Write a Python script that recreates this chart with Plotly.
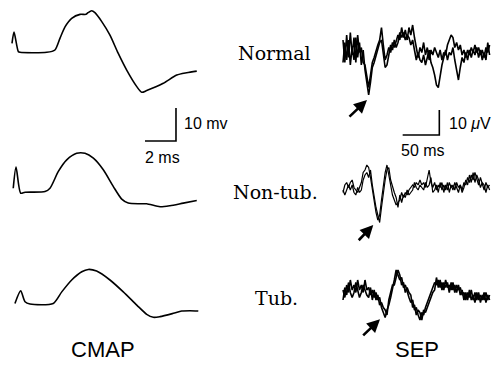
import plotly.graph_objects as go

# ---------------- CMAP data (time in ms, amplitude in mV) ----------------
cmap_normal_t = [0, 0.13, 0.41, 0.52, 2.24, 2.77, 3.10, 3.42, 3.85, 4.39, 4.77, 4.90, 5.14, 5.35,
                 5.79, 6.32, 6.84, 7.40, 8.05, 8.37, 8.69, 9.76, 10.63, 11.27, 11.92]
cmap_normal_v = [2.7, 6.1, 0.2, 0, 0, 0.7, 4.3, 7.7, 10.3, 11.5, 11.5, 12.0, 12.6, 12.0,
                 9.3, 5.2, -0.2, -5.4, -10.4, -12.1, -11.6, -9.4, -6.9, -6.2, -5.7]

cmap_nontub_t = [0.08, 0.26, 0.56, 0.84, 2.13, 2.45, 2.99, 3.53, 4.17, 4.71, 5.25, 5.89, 6.54,
                 7.08, 7.50, 8.26, 8.69, 9.55, 10.19, 11.05, 11.92]
cmap_nontub_v = [1.1, 7.5, -0.4, -0.1, 0.1, 1.1, 6.2, 9.7, 11.7, 11.7, 10.2, 6.7, 1.6,
                 -2.2, -3.4, -3.6, -3.6, -4.5, -4.2, -3.4, -2.6]

cmap_tub_t = [0.19, 0.56, 0.84, 1.16, 2.66, 3.21, 3.85, 4.50, 4.92, 5.46, 6.32, 7.18, 8.05,
              8.69, 9.12, 9.55, 10.41, 10.95, 11.48, 12.02]
cmap_tub_v = [0.2, 4.0, 0.7, 0, 0.2, 3.7, 7.3, 9.8, 10.5, 10.0, 7.3, 3.7, -0.3,
              -3.1, -4.0, -3.8, -2.8, -2.1, -2.0, -2.1]

# ---------------- SEP data (sampled every 2.5 ms, amplitude in uV) ----------------
SEP_DT = 2.5
sep_normal_a = [6, -3, 8, -1, 9, 0, 7, -3, 8, 1, 3, -3, -4, -9, -13, -8, -3, -1, 2, 4, 6, 11, 4, -2,
                0, 3, 1, 5, 3, 6, 8, 6, 11, 7, 10, 6, 11, 8, 12, 7, 2, -1, 3, 1, 5, 0, 3, -2,
                2, 0, 3, 1, -1, 2, -2, 1, 0, 4, 6, 8, 7, 3, 5, 2, 4, 0, 2, -1, 2, 0, 3, 1,
                4, 1, 3, 0, 2, -1, 3, 1, 4]
sep_normal_b = [-3, 5, -2, 6, -4, 3, -2, 7, -1, 5, -4, 2, -6, -12, -16, -11, -5, -3, 0, 3, 5, 6, 1, -5,
                -4, 0, 4, 2, 6, 3, 5, 9, 7, 9, 6, 8, 7, 4, 6, 2, -2, 1, -2, -3, 0, -4, -1, 2,
                -3, -5, -8, -12, -13, -8, -4, -1, 2, -2, 1, 0, 3, -2, -6, -10, -5, -1, -3, 1, -2, 2,
                -1, 2, 0, 3, -1, 2, -2, 1, -2, 5, 0]

sep_nontub_a = [-1, 2, 3, 1, 3, 4, 1, 0, -1, 1, 3, 7, 8, 10, 9, 5, 0, -5, -9, -12, -10, -4, 2, 7,
                10, 6, 2, -2, -4, -6, -5, -4, -1, -3, -1, -2, 0, 1, 2, 1, 3, 2, 4, 2, 3, 1, 4, 8,
                3, 1, 3, 0, 2, 1, 3, -1, 2, 0, 3, 1, 2, 0, 3, 1, 2, 0, 3, 2, 5, 3, 6, 4,
                7, 4, 2, 5, 2, 0, 3, 1, 2]
sep_nontub_b = [0, -2, 0, 2, 0, 2, -1, -2, 1, -1, 0, 4, 6, 7, 5, 8, 2, -3, -7, -10, -13, -7, -1, 4,
                8, 9, 4, 1, -1, -3, -7, -2, -5, -2, -3, 0, -2, -1, 0, 3, 1, 0, 2, 1, 0, 3, 1, 2,
                5, -1, 0, 2, -1, 3, 0, 2, 0, 3, -1, 2, 0, 3, 1, -1, 2, -1, 1, 4, 2, 6, 3, 7,
                3, 6, 4, 1, 3, 2, -1, 2, 0]

sep_tub_a = [2, -1, 4, 1, 6, 2, 4, 1, 6, 2, 4, 1, 6, 2, 3, 0, 2, -1, 1, -2, -1, -5, -7, -9,
             -6, -4, -1, 2, 6, 10, 8, 6, 7, 3, 4, 1, -1, -3, -2, -6, -5, -8, -10, -7, -8, -5, -3, -1,
             1, 3, 5, 4, 6, 3, 5, 2, 6, 3, 4, 2, 5, 1, 4, 2, 3, 0, 1, -2, 1, -1, 2, -2,
             1, -2, 1, -3, 0, -2, 1, -2, 0]
sep_tub_b = [-2, 3, 0, 5, 1, -1, 1, 5, 2, -1, 1, 4, 2, 0, -1, 3, -2, 2, -2, 0, -4, -3, -5, -6,
             -8, -2, 1, 4, 4, 7, 10, 8, 4, 5, 1, 3, 1, 0, -5, -4, -8, -6, -7, -10, -6, -7, -5, -3,
             -1, 1, 2, 7, 3, 6, 2, 5, 3, 5, 1, 5, 2, 4, 1, 4, 0, 2, -2, 1, -2, 2, -2, 0,
             -3, 1, -2, 0, -2, 1, -3, 0, -2]

row_labels = ["Normal", "Non-tub.", "Tub."]
cmap_scale_ms, cmap_scale_mv = 2, 10
sep_scale_ms, sep_scale_uv = 50, 10

# ---------------- layout constants ----------------
W, H = 493, 365
CMAP_PX_MS, CMAP_PX_MV = 15.5, 3.3
SEP_PX_MS, SEP_PX_UV = 0.733, 2.5
cmap_offsets = [0, -42.3, -76.3]      # mV vertical offsets of the rows
sep_offsets = [0, -54, -96]           # uV vertical offsets of the rows
sep_widths = [1.6, 1.2, 1.6]

fig = go.Figure()
line_c = dict(color="black", width=1.6, shape="spline", smoothing=0.7)
for (t, v), off in zip([(cmap_normal_t, cmap_normal_v), (cmap_nontub_t, cmap_nontub_v),
                         (cmap_tub_t, cmap_tub_v)], cmap_offsets):
    fig.add_trace(go.Scatter(x=t, y=[a + off for a in v], mode="lines", line=line_c,
                             xaxis="x", yaxis="y", hoverinfo="skip"))

for (a, b), off, lw in zip([(sep_normal_a, sep_normal_b), (sep_nontub_a, sep_nontub_b),
                             (sep_tub_a, sep_tub_b)], sep_offsets, sep_widths):
    for s in (a, b):
        fig.add_trace(go.Scatter(x=[i * SEP_DT for i in range(len(s))], y=[u + off for u in s],
                                 mode="lines", line=dict(color="black", width=lw),
                                 xaxis="x2", yaxis="y2", hoverinfo="skip"))

# scale bars
cx, cy = 10.58, -26.9
fig.add_trace(go.Scatter(x=[cx - cmap_scale_ms, cx, cx], y=[cy, cy, cy + cmap_scale_mv],
                         mode="lines", line=dict(color="black", width=1.6),
                         xaxis="x", yaxis="y", hoverinfo="skip"))
sx, sy = 131.4, -32
fig.add_trace(go.Scatter(x=[sx - sep_scale_ms, sx, sx], y=[sy, sy, sy + sep_scale_uv],
                         mode="lines", line=dict(color="black", width=1.6),
                         xaxis="x2", yaxis="y2", hoverinfo="skip"))

sans = "Liberation Sans, Arial, sans-serif"
serif = "DejaVu Serif, serif"
ann = []
ann.append(dict(x=cx + 0.39, y=cy + cmap_scale_mv / 2 + 0.3, xref="x", yref="y",
                text=f"{cmap_scale_mv} mv", showarrow=False, xanchor="left", yanchor="middle",
                font=dict(family=sans, size=16, color="black")))
ann.append(dict(x=cx - cmap_scale_ms / 2 + 0.1, y=cy - 5.0, xref="x", yref="y",
                text=f"{cmap_scale_ms} ms", showarrow=False, yanchor="middle",
                font=dict(family=sans, size=16, color="black")))
ann.append(dict(x=sx + 10.3, y=sy + sep_scale_uv / 2 - 0.2, xref="x2", yref="y2",
                text=f"{sep_scale_uv} <i>μ</i>V", showarrow=False, xanchor="left",
                yanchor="middle", font=dict(family=sans, size=16, color="black")))
ann.append(dict(x=sx - sep_scale_ms / 2 + 2.6, y=sy - 6.2, xref="x2", yref="y2",
                text=f"{sep_scale_ms} ms", showarrow=False, yanchor="middle",
                font=dict(family=sans, size=16, color="black")))
ann.append(dict(x=5.89, y=-90.2, xref="x", yref="y", text="CMAP", showarrow=False,
                yanchor="middle", font=dict(family=sans, size=22, color="black")))
ann.append(dict(x=100.5, y=-117.6, xref="x2", yref="y2", text="SEP", showarrow=False,
                yanchor="middle", font=dict(family=sans, size=22, color="black")))
for lab, xp, yp in zip(row_labels, [274, 275.5, 276], [53, 192, 298]):
    ann.append(dict(x=xp / W, y=1 - yp / H, xref="paper", yref="paper", text=lab,
                    showarrow=False, xanchor="center", yanchor="middle",
                    font=dict(family=serif, size=19, color="black")))
# arrows (head, tail) in SEP units
for (hx, hy, tx, ty) in [(32.7, -18, 6.8, -25.2), (41.3, -68, 19.5, -74.7),
                         (50.5, -105.7, 25.5, -112.7)]:
    ann.append(dict(x=hx, y=hy, ax=tx, ay=ty, xref="x2", yref="y2", axref="x2", ayref="y2",
                    showarrow=True, arrowhead=2, arrowsize=1.0, arrowwidth=2.6,
                    arrowcolor="black", text=""))

hidden = dict(visible=False, showgrid=False, zeroline=False, fixedrange=True)
fig.update_layout(
    width=W, height=H, margin=dict(l=0, r=0, t=0, b=0),
    paper_bgcolor="white", plot_bgcolor="white", showlegend=False,
    xaxis=dict(domain=[0, 220 / W], range=[-12 / CMAP_PX_MS, (220 - 12) / CMAP_PX_MS], **hidden),
    yaxis=dict(domain=[0, 1], range=[-(H - 52.3) / CMAP_PX_MV, 52.3 / CMAP_PX_MV], **hidden),
    xaxis2=dict(domain=[330 / W, 1], range=[(330 - 343) / SEP_PX_MS, (W - 343) / SEP_PX_MS],
                anchor="y2", **hidden),
    yaxis2=dict(domain=[0, 1], range=[-(H - 55) / SEP_PX_UV, 55 / SEP_PX_UV], anchor="x2",
                **hidden),
    annotations=ann,
)
fig.write_html("out.html", config={"displayModeBar": False, "staticPlot": True},
               post_script="document.body.style.margin='0';document.body.style.overflow='hidden';")
